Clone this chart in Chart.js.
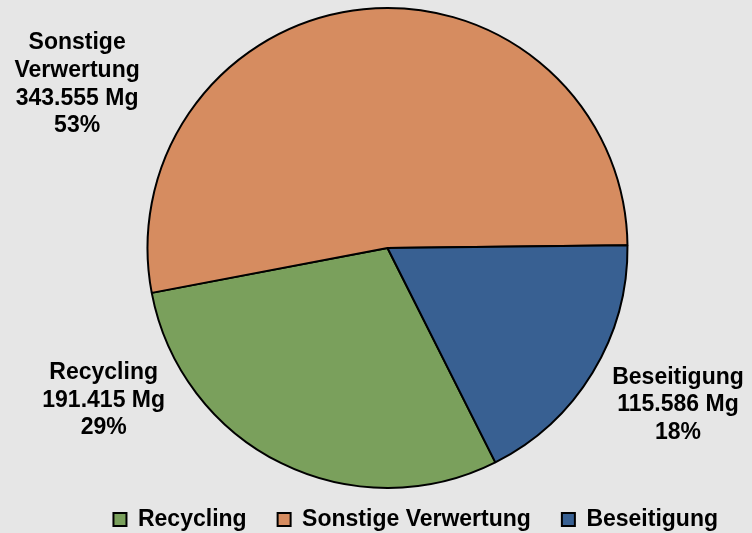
<!DOCTYPE html>
<html>
<head>
<meta charset="utf-8">
<script src="https://cdn.jsdelivr.net/npm/chart.js@4.4.1/dist/chart.umd.min.js"></script>
<style>
  html, body { margin: 0; padding: 0; background: #e6e6e6; }
  #wrap { width: 752px; height: 533px; position: relative; }
</style>
</head>
<body>
<div id="wrap"><canvas id="pieChart"></canvas></div>
<script>
// Chart data
const categories = ['Recycling', 'Sonstige Verwertung', 'Beseitigung'];
const labelNames = [['Recycling'], ['Sonstige', 'Verwertung'], ['Beseitigung']];
const tonnes = [191415, 343555, 115586];
const unit = 'Mg';

const sliceColors = ['#7aa05c', '#d68c60', '#386092'];

// label placement: angle (deg, clockwise from 3 o'clock) and distance in radii
const labelSpots = [
    { angle: 151.8, dist: 1.342 },
    { angle: 207.8, dist: 1.462 },
    { angle: 28.4, dist: 1.376 }
];

function formatDE(n) {
    return String(n).replace(/\B(?=(\d{3})+(?!\d))/g, '.');
}

const total = tonnes.reduce((a, b) => a + b, 0);

const sliceLabels = {
    id: 'sliceLabels',
    afterDraw(chart) {
        const ctx = chart.ctx;
        const meta = chart.getDatasetMeta(0);
        ctx.save();
        ctx.font = 'bold 23px "Liberation Sans", Arial, sans-serif';
        ctx.fillStyle = '#000';
        ctx.textAlign = 'center';
        ctx.textBaseline = 'middle';
        meta.data.forEach((arc, i) => {
            const spot = labelSpots[i];
            const a = spot.angle * Math.PI / 180;
            const cx = arc.x + Math.cos(a) * arc.outerRadius * spot.dist;
            const cy = arc.y + Math.sin(a) * arc.outerRadius * spot.dist;
            const lines = labelNames[i].concat([
                formatDE(tonnes[i]) + ' ' + unit,
                Math.round(tonnes[i] / total * 100) + '%'
            ]);
            const lh = 27.7;
            lines.forEach((t, k) => {
                ctx.fillText(t, cx, cy + (k - (lines.length - 1) / 2) * lh);
            });
        });
        ctx.restore();
    }
};

new Chart(document.getElementById('pieChart'), {
    type: 'pie',
    data: {
        labels: categories,
        datasets: [{
            data: tonnes,
            backgroundColor: sliceColors,
            borderColor: '#000',
            borderWidth: 2
        }]
    },
    options: {
        responsive: true,
        maintainAspectRatio: false,
        animation: false,
        rotation: 153.3,
        radius: 240,
        layout: {
            padding: { top: 19, left: 26, right: 3, bottom: -8 }
        },
        plugins: {
            tooltip: { enabled: false },
            legend: {
                position: 'bottom',
                align: 'end',
                labels: {
                    color: '#000',
                    boxWidth: 13,
                    boxHeight: 13,
                    padding: 31,
                    font: { family: '"Liberation Sans", Arial, sans-serif', size: 23, weight: 'bold' }
                }
            }
        }
    },
    plugins: [sliceLabels]
});
</script>
</body>
</html>
